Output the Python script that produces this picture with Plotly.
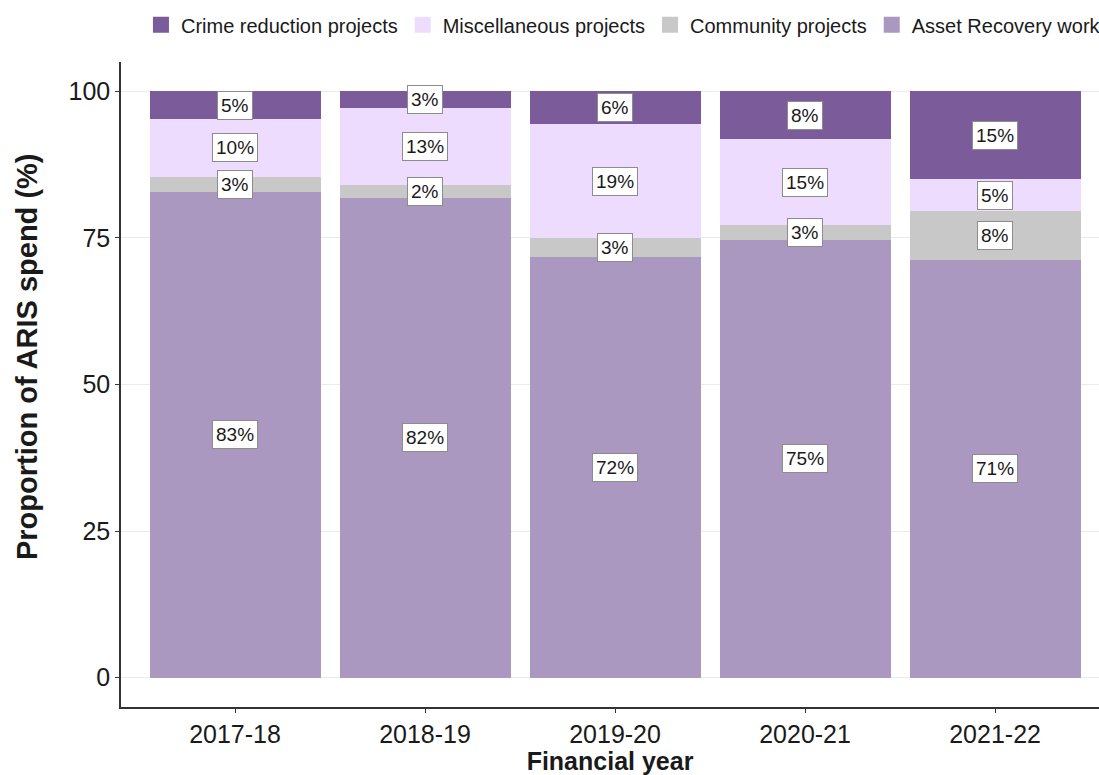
import plotly.graph_objects as go

years = ["2017-18", "2018-19", "2019-20", "2020-21", "2021-22"]
asset_recovery = [82.8, 81.8, 71.7, 74.6, 71.2]
community = [2.6, 2.2, 3.3, 2.6, 8.4]
miscellaneous = [9.9, 13.1, 19.4, 14.6, 5.4]
crime_reduction = [4.7, 2.9, 5.6, 8.2, 15.0]

series = [
    ("Asset Recovery work", asset_recovery, "#AA98C1"),
    ("Community projects", community, "#C8C8C8"),
    ("Miscellaneous projects", miscellaneous, "#EDDCFE"),
    ("Crime reduction projects", crime_reduction, "#7B5B99"),
]

FONT = "Liberation Sans, Arial, sans-serif"
fig = go.Figure()
for name, vals, col in series:
    fig.add_trace(go.Bar(x=years, y=vals, name=name, marker_color=col,
                         marker_line_width=0, width=0.9, showlegend=False))
# legend proxies (bigger square keys)
for name, vals, col in series:
    fig.add_trace(go.Scatter(x=[None], y=[None], mode="markers", name=name,
                             marker=dict(symbol="square", size=16, color=col,
                                         line=dict(width=0))))

# labels at segment midpoints
base = [0.0] * len(years)
for name, vals, col in series:
    for i, v in enumerate(vals):
        fig.add_annotation(x=years[i], y=base[i] + v / 2, text=f"{round(v)}%",
                           showarrow=False, bgcolor="white", bordercolor="#8C8C8C",
                           borderwidth=1, borderpad=3,
                           font=dict(family=FONT, size=19, color="#1A1A1A"))
        base[i] += v

# y-axis title as annotation (positioned like the reference)
fig.add_annotation(xref="paper", yref="paper", x=0, xshift=-94, y=0.5426,
                   xanchor="center", yanchor="middle", textangle=-90, showarrow=False,
                   text="<b>Proportion of ARIS spend (%)</b>",
                   font=dict(family=FONT, size=29, color="#1A1A1A"))

fig.update_layout(
    width=1099, height=775,
    margin=dict(l=121, r=0, t=62, b=68, autoexpand=False),
    paper_bgcolor="white", plot_bgcolor="white",
    barmode="stack", bargap=0.1,
    font=dict(family=FONT, color="#1A1A1A"),
    legend=dict(orientation="h", traceorder="reversed", x=0.0204, xanchor="left",
                yref="container", y=0.968, yanchor="middle",
                font=dict(family=FONT, size=20, color="#1A1A1A"),
                itemwidth=30, itemsizing="trace", bgcolor="rgba(0,0,0,0)"),
    xaxis=dict(range=[-0.6, 4.547], showline=True, linecolor="#333333", linewidth=1.5,
               ticks="outside", ticklen=4, tickcolor="#333333", showgrid=False,
               automargin=False,
               tickfont=dict(family=FONT, size=25, color="#1A1A1A"),
               title=dict(text="<b>Financial year</b>", standoff=0,
                          font=dict(family=FONT, size=25, color="#1A1A1A"))),
    yaxis=dict(range=[-5, 105], showline=True, linecolor="#333333", linewidth=1.5,
               ticks="outside", ticklen=4, tickcolor="#333333",
               tickvals=[0, 25, 50, 75, 100], showgrid=True, gridcolor="#EBEBEB",
               zeroline=False, automargin=False,
               tickfont=dict(family=FONT, size=25, color="#1A1A1A")),
)

fig.write_html("out.html", config={"displayModeBar": False},
               post_script="document.body.style.margin='0';"
                           "document.body.style.overflow='hidden';")
